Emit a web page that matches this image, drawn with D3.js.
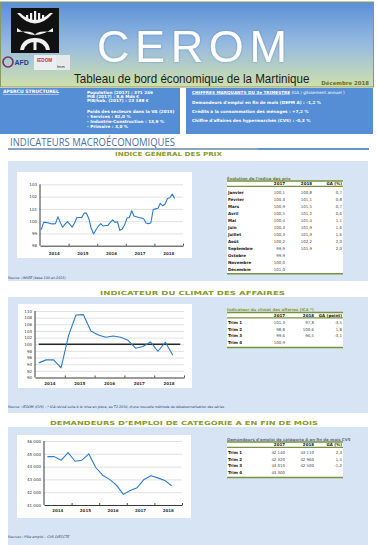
<!DOCTYPE html>
<html>
<head>
<meta charset="utf-8">
<script src="https://cdn.jsdelivr.net/npm/d3@7"></script>
<style>
body { margin: 0; background: #fff; }
svg { display: block; }
</style>
</head>
<body>
<div id="chart"></div>
<script>
const WIDTH = 377;
const HEIGHT = 545;

// ---- data ----
const years = ["2014", "2015", "2016", "2017", "2018"];

// indice des prix, mensuel, janv. 2014 -> sept. 2018
const cpiValues = [
  99.3, 99.9, 99.9, 99.85, 99.8, 99.78, 99.8, 100.35, 99.9, 99.5, 99.75, 99.95,
  99.75, 99.5, 99.85, 100.3, 100.3, 100.3, 100.65, 100.65, 100.2, 99.4, 98.95, 99.3,
  99.6, 99.8, 99.6, 99.65, 99.65, 99.9, 100.1, 99.9, 99.95, 99.25, 99.35, 99.7,
  100.25, 100.3, 100.85, 100.4, 100.35, 100.3, 100.25, 100.2, 99.85, 99.8, 99.85, 100.95,
  101.0, 101.05, 101.45, 101.25, 101.4, 101.85, 101.9, 102.2, 101.85
];
const cpiTicks = [98, 99, 100, 101, 102, 103];

// climat des affaires, trimestriel, T1 2014 -> T3 2018
const icaValues = [94.4, 95.3, 95.3, 92.9, 102.6, 108.8, 108.9, 104.0, 102.8, 102.1,
  102.5, 102.1, 101.2, 98.8, 99.3, 100.7, 97.9, 100.6, 96.7];
const icaTicks = [90, 92, 94, 96, 98, 100, 102, 104, 106, 108, 110];

// DEFM A, trimestriel, T1 2014 -> T3 2018
const defmValues = [44780, 44780, 44500, 45090, 44420, 44500, 44990, 43930, 43330, 43000,
  42550, 41830, 42140, 42350, 43000, 43280, 43120, 42920, 42500];
const defmTicks = [41000, 42000, 43000, 44000, 45000, 46000];

const monthNames = ["Janvier", "Février", "Mars", "Avril", "Mai", "Juin", "Juillet", "Août",
  "Septembre", "Octobre", "Novembre", "Décembre"];
const cpi2017 = ["100,1", "100,3", "100,9", "100,5", "100,4", "100,3", "100,3", "100,2", "99,9", "99,9", "100,0", "101,0"];
const cpi2018 = ["100,8", "101,1", "101,5", "101,2", "101,4", "101,9", "101,9", "102,2", "101,9"];
const cpiGA = ["0,7", "0,8", "0,7", "0,6", "1,1", "1,6", "1,6", "2,0", "2,0"];

const quarters = ["Trim 1", "Trim 2", "Trim 3", "Trim 4"];
const ica2017 = ["101,3", "98,8", "99,6", "100,9"];
const ica2018 = ["97,8", "100,6", "96,5"];
const icaGA = ["-3,5", "1,8", "-3,1"];

const defm2017 = ["42 140", "42 320", "43 010", "43 300"];
const defm2018 = ["43 110", "42 960", "42 500"];
const defmGA = ["2,3", "1,5", "-1,2"];

const structureLines = ["Population (2017) : 371 246", "PIB (2017) : 8,6 Mds €", "PIB/hab. (2017) : 23 188 €"];
const sectorLines = ["Poids des secteurs dans la VA (2015)", " - Services : 82,0  %", " - Industrie-Construction : 13,9 %", " - Primaire : 3,0 %"];
const keyFigures = [
  "Demandeurs d'emploi en fin de mois (DEFM A) : -1,2 %",
  "Crédits à la consommation des ménages : +7,2 %",
  "Chiffre d'affaires des hypermarchés (CVS) : -0,3 %"
];

// ---- styles ----
const PANEL = "#d7e4f4";
const BLUE = "#558ed5";
const LINE = "#2b7bcc";
const OLIVE = "#77933c";
const TITLE = "#8a9b2c";
const FONT = "'Liberation Sans', Arial, sans-serif";
const VFONT = "'DejaVu Sans', Verdana, sans-serif";

const SVG = d3.select("#chart")
  .append("svg")
  .attr("width", WIDTH)
  .attr("height", HEIGHT);

const defs = SVG.append("defs");
const grad = defs.append("linearGradient")
  .attr("id", "headGrad")
  .attr("x1", 0).attr("y1", 0).attr("x2", 0).attr("y2", 1);
grad.append("stop").attr("offset", "0%").attr("stop-color", "#5a8fd6");
grad.append("stop").attr("offset", "50%").attr("stop-color", "#97bbe0");
grad.append("stop").attr("offset", "100%").attr("stop-color", "#cfe0ac");

const glow = defs.append("filter").attr("id", "glow").attr("x", "-20%").attr("y", "-20%").attr("width", "140%").attr("height", "140%");
glow.append("feGaussianBlur").attr("stdDeviation", 1.2).attr("in", "SourceAlpha").attr("result", "b");
glow.append("feFlood").attr("flood-color", "#3d6fb0").attr("flood-opacity", 0.6);
glow.append("feComposite").attr("in2", "b").attr("operator", "in").attr("result", "s");
const merge = glow.append("feMerge");
merge.append("feMergeNode").attr("in", "s");
merge.append("feMergeNode").attr("in", "SourceGraphic");

// ---- header ----
SVG.append("rect")
  .attr("x", 0.5).attr("y", 2).attr("width", 373).attr("height", 85)
  .attr("fill", "url(#headGrad)")
  .attr("stroke", "#8d9a5f").attr("stroke-width", 1);

// logo
const logo = SVG.append("g");
logo.append("rect").attr("x", 11).attr("y", 8).attr("width", 48).attr("height", 45).attr("fill", "#111");
logo.append("path")
  .attr("d", "M17,13 Q35,34 53,13 L50,13 Q35,27 20,13 Z")
  .attr("fill", "#f2f2f2");
[27, 31, 35, 39, 43].forEach((x, i) => {
  logo.append("rect").attr("x", x - 1).attr("y", 11 + Math.abs(i - 2) * 2).attr("width", 2.2).attr("height", 9 - Math.abs(i - 2) * 2).attr("fill", "#f2f2f2");
});
logo.append("path")
  .attr("d", "M17,28 Q35,42 53,28 L53,32 Q35,30 35,36 Q35,30 17,32 Z")
  .attr("fill", "#f2f2f2");
logo.append("path")
  .attr("d", "M20,50 Q22,38 35,38 Q48,38 50,50 L46,50 Q44,42 35,42 Q26,42 24,50 Z")
  .attr("fill", "#f2f2f2");
logo.append("rect").attr("x", 33.5).attr("y", 38).attr("width", 3).attr("height", 12).attr("fill", "#f2f2f2");

// partner logos
SVG.append("circle").attr("cx", 8).attr("cy", 62).attr("r", 5).attr("fill", "none").attr("stroke", "#7a2a6a").attr("stroke-width", 1.6);
SVG.append("text").attr("x", 14.5).attr("y", 65).text("AFD")
  .style("font", `bold 7px ${FONT}`).attr("fill", "#1d3f8f");
SVG.append("rect").attr("x", 34).attr("y", 55).attr("width", 22).attr("height", 15).attr("fill", "#f4f4f8").attr("opacity", 0.85);
SVG.append("text").attr("x", 37).attr("y", 62).text("IEDOM")
  .style("font", `bold 4.6px ${FONT}`).attr("fill", "#c03030");
SVG.append("rect").attr("x", 56).attr("y", 55).attr("width", 14).attr("height", 15).attr("fill", "#eeeeee").attr("opacity", 0.85);
SVG.append("text").attr("x", 57).attr("y", 68).text("Imm")
  .style("font", `4px ${FONT}`).attr("fill", "#333");

SVG.append("text")
  .attr("x", 97).attr("y", 62)
  .attr("textLength", 190).attr("lengthAdjust", "spacing")
  .text("CEROM")
  .attr("fill", "#ffffff")
  .attr("filter", "url(#glow)")
  .style("font", `45px ${FONT}`);

SVG.append("text")
  .attr("transform", "translate(74,83) scale(0.82,1)")
  .attr("textLength", 287).attr("lengthAdjust", "spacingAndGlyphs")
  .text("Tableau de bord économique de la Martinique")
  .attr("fill", "#1a1a1a")
  .style("font", `12.8px ${FONT}`);

SVG.append("text")
  .attr("x", 369).attr("y", 84.5).attr("text-anchor", "end")
  .text("Décembre 2018")
  .attr("fill", "#5f7028")
  .style("font", `bold 5.4px ${VFONT}`);

// ---- blue summary band ----
SVG.append("rect").attr("x", 0).attr("y", 88).attr("width", 180).attr("height", 46).attr("fill", BLUE);
SVG.append("rect").attr("x", 186).attr("y", 88).attr("width", 187).attr("height", 46).attr("fill", BLUE);

const small = `bold 4.2px ${VFONT}`;
SVG.append("text").attr("x", 3).attr("y", 93).text("APERCU STRUCTUREL")
  .attr("fill", "#fff").attr("text-decoration", "underline").style("font", `bold 4.6px ${VFONT}`);
structureLines.forEach((t, i) => {
  SVG.append("text").attr("x", 87).attr("y", 93.5 + i * 4.3).text(t).attr("fill", "#fff").style("font", small);
});
sectorLines.forEach((t, i) => {
  SVG.append("text").attr("x", 87).attr("y", 113 + i * 5).text(t).attr("fill", "#fff").style("font", small);
});

const kf = SVG.append("text").attr("x", 192).attr("y", 93.5).attr("fill", "#fff").style("font", small);
kf.append("tspan").text("CHIFFRES MARQUANTS DU 3e TRIMESTRE").attr("text-decoration", "underline");
kf.append("tspan").text(" (GA / glissement annuel )").style("font-weight", "normal");
keyFigures.forEach((t, i) => {
  SVG.append("text").attr("x", 192).attr("y", 103.5 + i * 9).text(t).attr("fill", "#fff").style("font", small);
});

// ---- section heading ----
SVG.append("text")
  .attr("x", 10).attr("y", 146)
  .attr("textLength", 165).attr("lengthAdjust", "spacingAndGlyphs")
  .text("INDICATEURS MACROÉCONOMIQUES")
  .attr("fill", "#4e6f99")
  .style("font", `10px 'Open Sans', ${FONT}`);
SVG.append("line").attr("x1", 8).attr("x2", 258).attr("y1", 149).attr("y2", 149).attr("stroke", "#6483ab").attr("stroke-width", 1.6);
SVG.append("line").attr("x1", 258).attr("x2", 369).attr("y1", 149).attr("y2", 149).attr("stroke", "#2e74b8").attr("stroke-width", 1.6);

// ---- panels ----
const panels = [
  { y: 161, h: 120, title: "INDICE GÉNÉRAL DES PRIX", tx: 115, tw: 107, ty: 156 },
  { y: 297, h: 116, title: "INDICATEUR DU CLIMAT DES AFFAIRES", tx: 100, tw: 185, ty: 295 },
  { y: 427, h: 118, title: "DEMANDEURS D’EMPLOI DE CATEGORIE A EN FIN DE MOIS", tx: 50, tw: 268, ty: 425 }
];
panels.forEach(p => {
  SVG.append("rect").attr("x", 8).attr("y", p.y).attr("width", 360).attr("height", p.h).attr("fill", PANEL);
  SVG.append("text")
    .attr("x", p.tx).attr("y", p.ty)
    .attr("textLength", p.tw).attr("lengthAdjust", "spacingAndGlyphs")
    .text(p.title)
    .attr("fill", TITLE)
    .style("font", `bold 5.6px ${VFONT}`);
});

// ---- line charts ----
function lineChart(cfg) {
  const g = SVG.append("g");
  g.append("rect")
    .attr("x", cfg.box[0]).attr("y", cfg.box[1]).attr("width", cfg.box[2]).attr("height", cfg.box[3])
    .attr("fill", "#fff");

  const x = d3.scaleLinear().domain([0, cfg.nCats]).range([cfg.x0, cfg.x1]);
  const y = d3.scaleLinear().domain(d3.extent(cfg.ticks)).range([cfg.y0, cfg.y1]);

  // gridlines + labels
  const yAxis = d3.axisLeft(y)
    .tickValues(cfg.ticks)
    .tickSize(-(cfg.x1 - cfg.x0))
    .tickPadding(3)
    .tickFormat(cfg.format);
  const ya = g.append("g").attr("transform", `translate(${cfg.x0},0)`).call(yAxis);
  ya.select(".domain").remove();
  ya.selectAll(".tick line").attr("stroke", "#d9d9d9").attr("stroke-width", 0.8);
  ya.selectAll(".tick text").attr("fill", "#333").style("font", `4px ${VFONT}`);
  ya.selectAll(".tick").filter(d => d === cfg.ticks[0]).select("line").remove();

  // axes lines
  g.append("line").attr("x1", cfg.x0).attr("x2", cfg.x0).attr("y1", cfg.y1).attr("y2", cfg.y0)
    .attr("stroke", "#222").attr("stroke-width", 0.9);
  const per = cfg.nCats / years.length;
  const xAxis = d3.axisBottom(x)
    .tickValues(d3.range(0, years.length + 1).map(i => i * per))
    .tickSize(-2)
    .tickSizeOuter(0)
    .tickFormat("");
  const xa = g.append("g").attr("transform", `translate(0,${cfg.y0})`).call(xAxis);
  xa.select(".domain").attr("stroke", "#222").attr("stroke-width", 0.9);
  xa.selectAll(".tick line").attr("stroke", "#222").attr("stroke-width", 0.8);
  xa.selectAll(".tick").filter(d => d === 0).remove();

  g.selectAll(".yr")
    .data(years)
    .enter()
    .append("text")
    .attr("x", (d, i) => x((i + 0.5) * per))
    .attr("y", cfg.labelY)
    .attr("text-anchor", "middle")
    .text(d => d)
    .attr("fill", "#333")
    .style("font", `bold 4px ${VFONT}`);

  if (cfg.ref !== undefined) {
    g.append("line")
      .attr("x1", x(0.5)).attr("x2", x(cfg.nCats - 0.5))
      .attr("y1", y(cfg.ref)).attr("y2", y(cfg.ref))
      .attr("stroke", "#262626").attr("stroke-width", 1.3);
  }

  const line = d3.line()
    .x((d, i) => x(i + 0.5))
    .y(d => y(d));
  g.append("path")
    .datum(cfg.values)
    .attr("d", line)
    .attr("fill", "none")
    .attr("stroke", LINE)
    .attr("stroke-width", 1.1)
    .attr("stroke-linejoin", "round");
}

const spaceFmt = d => d3.format(",")(d).replace(/,/g, " ");

lineChart({
  box: [17, 172, 175, 86],
  x0: 40, x1: 183, y0: 245.7, y1: 184.3,
  ticks: cpiTicks, format: d3.format("d"),
  nCats: 60, values: cpiValues, labelY: 254.5
});
lineChart({
  box: [18, 304, 174, 84],
  x0: 35, x1: 184, y0: 377.5, y1: 311,
  ticks: icaTicks, format: d3.format("d"),
  nCats: 20, values: icaValues, labelY: 384.5, ref: 100
});
lineChart({
  box: [17, 435, 174, 83],
  x0: 44, x1: 182, y0: 505, y1: 441,
  ticks: defmTicks, format: spaceFmt,
  nCats: 20, values: defmValues, labelY: 512
});

// ---- tables ----
function table(cfg) {
  const g = SVG.append("g");
  const x0 = 227, x1 = 343;
  const bottom = cfg.rowY0 + (cfg.rows.length - 1) * cfg.step + 3.3;
  g.append("rect").attr("x", x0).attr("y", cfg.top).attr("width", x1 - x0).attr("height", bottom - cfg.top).attr("fill", "#fff");
  g.append("text").attr("x", x0).attr("y", cfg.top - 1.5).text(cfg.title)
    .attr("fill", cfg.titleColor).style("font", `bold 3.9px ${VFONT}`);
  g.append("line").attr("x1", x0).attr("x2", x1).attr("y1", cfg.top).attr("y2", cfg.top).attr("stroke", OLIVE).attr("stroke-width", 1.6);
  g.append("line").attr("x1", x0).attr("x2", x1).attr("y1", cfg.top + 5.3).attr("y2", cfg.top + 5.3).attr("stroke", OLIVE).attr("stroke-width", 1.2);
  g.append("line").attr("x1", x0).attr("x2", x1).attr("y1", bottom).attr("y2", bottom).attr("stroke", OLIVE).attr("stroke-width", 1.6);

  cfg.headers.forEach((h, i) => {
    g.append("text").attr("x", cfg.cols[i]).attr("y", cfg.top + 4.2).attr("text-anchor", "end")
      .text(h).attr("fill", "#111").style("font", `bold 4px ${VFONT}`);
  });
  cfg.rows.forEach((r, j) => {
    const yy = cfg.rowY0 + j * cfg.step;
    g.append("text").attr("x", x0 + 1).attr("y", yy).text(r)
      .attr("fill", "#111").style("font", `bold 4px ${VFONT}`);
    cfg.series.forEach((s, i) => {
      if (s[j] === undefined) return;
      g.append("text").attr("x", cfg.cols[i]).attr("y", yy).attr("text-anchor", "end")
        .text(s[j]).attr("fill", "#444").style("font", `3.9px ${VFONT}`);
    });
  });
}

table({
  title: "Évolution de l'indice des prix", titleColor: "#6d7a3a",
  top: 181, headers: ["2017", "2018", "GA (%)"], cols: [285, 312, 342],
  rows: monthNames, series: [cpi2017, cpi2018, cpiGA], rowY0: 193.5, step: 7
});
table({
  title: "Indicateur du climat des affaires (ICA *)", titleColor: TITLE,
  top: 312.5, headers: ["2017", "2018", "GA (point)"], cols: [285, 314, 342],
  rows: quarters, series: [ica2017, ica2018, icaGA], rowY0: 323.8, step: 6.8
});
table({
  title: "Demandeurs d'emploi de catégorie A en fin de mois CVS", titleColor: "#5f6f86",
  top: 442, headers: ["2017", "2018", "GA (%)"], cols: [285, 314, 342],
  rows: quarters, series: [defm2017, defm2018, defmGA], rowY0: 453.8, step: 6.8
});

// ---- sources ----
const sources = [
  { y: 278.5, t: "Source : INSEE (base 100 en 2015)" },
  { y: 408, t: "Source : IEDOM (CVS) - * ICA révisé suite à la mise en place, au T2 2016, d'une nouvelle méthode de désaisonnalisation des séries" },
  { y: 538, t: "Sources : Pôle emploi – CVS DIECCTE" }
];
sources.forEach(s => {
  SVG.append("text").attr("x", 8).attr("y", s.y).text(s.t)
    .attr("fill", "#1f3864").style("font", `italic 3.3px ${VFONT}`);
});
</script>
</body>
</html>
